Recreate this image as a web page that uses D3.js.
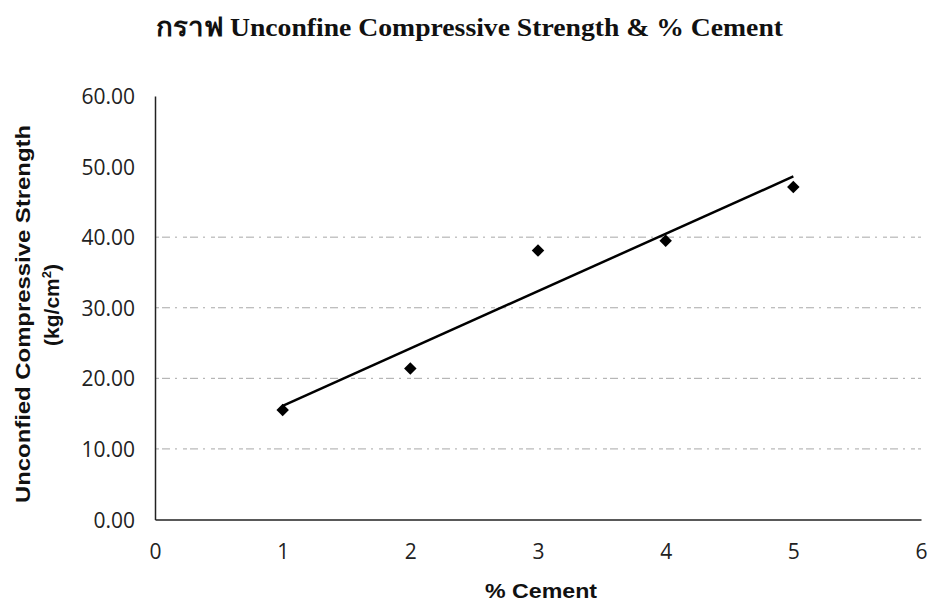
<!DOCTYPE html>
<html><head><meta charset="utf-8">
<script src="https://cdn.jsdelivr.net/npm/d3@7"></script>
<style>body{margin:0;background:#fff}svg{display:block}</style>
</head><body>
<script>
const cementPct = [1, 2, 3, 4, 5];
const strength = [15.5, 21.4, 38.1, 39.5, 47.1];
const trendX = [1, 5];
const trendY = [16.1, 48.6];
const yTicks = [0, 10, 20, 30, 40, 50, 60];
const xTicks = [0, 1, 2, 3, 4, 5, 6];
const gridValues = [10, 20, 30, 40];
const title = "กราฟ Unconfine Compressive Strength & % Cement";
const xTitle = "% Cement";
const yTitle1 = "Unconfied Compressive Strength";

const W = 931, H = 606;
const svg = d3.select("body").append("svg").attr("width", W).attr("height", H);
const x = d3.scaleLinear().domain([0, 6]).range([155, 921]);
const y = d3.scaleLinear().domain([0, 60]).range([519.5, 96]);

svg.append("text").attr("x", 156).attr("y", 36)
  .attr("textLength", 627).attr("lengthAdjust", "spacingAndGlyphs")
  .style("font-family", "'Liberation Serif','Times New Roman',serif")
  .style("font-weight", "bold").style("font-size", "26px").attr("fill", "#111")
  .text(title);

// gridlines
svg.append("g").selectAll("line").data(gridValues).join("line")
  .attr("x1", x(0)).attr("x2", x(6)).attr("y1", d => y(d)).attr("y2", d => y(d))
  .attr("stroke", "#a8a8a8").attr("stroke-width", 1).attr("stroke-dasharray", "4,3,8,5,2,6");

// axes
const yAxis = d3.axisLeft(y).tickValues(yTicks).tickFormat(d3.format(".2f")).tickSize(0).tickPadding(20);
const gy = svg.append("g").attr("transform", `translate(${x(0)},0)`).call(yAxis);
const xAxis = d3.axisBottom(x).tickValues(xTicks).tickFormat(d3.format("d")).tickSize(0).tickPadding(0);
const gx = svg.append("g").attr("transform", `translate(0,${y(0)})`).call(xAxis);
[gx, gy].forEach(g => {
  g.select(".domain").attr("stroke", "#222").attr("stroke-width", 1.5);
  g.selectAll("text").style("font-family", "'Open Sans','Liberation Sans',sans-serif")
    .style("font-size", "21px").attr("fill", "#222");
});
gy.selectAll("text").attr("dy", "0.36em");
gx.selectAll("text").attr("y", 32).attr("dy", "0.36em");

// axis titles
svg.append("text").attr("x", 485).attr("y", 598)
  .attr("textLength", 112).attr("lengthAdjust", "spacingAndGlyphs")
  .style("font-family", "'Liberation Sans',Arial,sans-serif")
  .style("font-weight", "bold").style("font-size", "21px").attr("fill", "#111").text(xTitle);

svg.append("text").attr("transform", "rotate(-90)")
  .attr("x", -503).attr("y", 30)
  .attr("textLength", 378).attr("lengthAdjust", "spacingAndGlyphs")
  .style("font-family", "'Liberation Sans',Arial,sans-serif")
  .style("font-weight", "bold").style("font-size", "21px").attr("fill", "#111")
  .text(yTitle1);
const yl2 = svg.append("text").attr("transform", "rotate(-90)")
  .attr("x", -305).attr("y", 59).attr("text-anchor", "middle")
  .style("font-family", "'Liberation Sans',Arial,sans-serif")
  .style("font-weight", "bold").style("font-size", "21px").attr("fill", "#111");
yl2.append("tspan").text("(kg/cm");
yl2.append("tspan").attr("dy", -8).style("font-size", "13px").text("2");
yl2.append("tspan").attr("dy", 8).text(")");

// trendline
svg.append("path").datum(trendX.map((d, i) => [d, trendY[i]]))
  .attr("d", d3.line().x(d => x(d[0])).y(d => y(d[1])))
  .attr("fill", "none").attr("stroke", "#000").attr("stroke-width", 2.5);

// markers
svg.append("g").selectAll("path").data(cementPct.map((d, i) => [d, strength[i]])).join("path")
  .attr("d", d3.symbol().type(d3.symbolSquare).size(78))
  .attr("transform", d => `translate(${x(d[0])},${y(d[1])}) rotate(45)`)
  .attr("fill", "#000");
</script>
</body></html>
